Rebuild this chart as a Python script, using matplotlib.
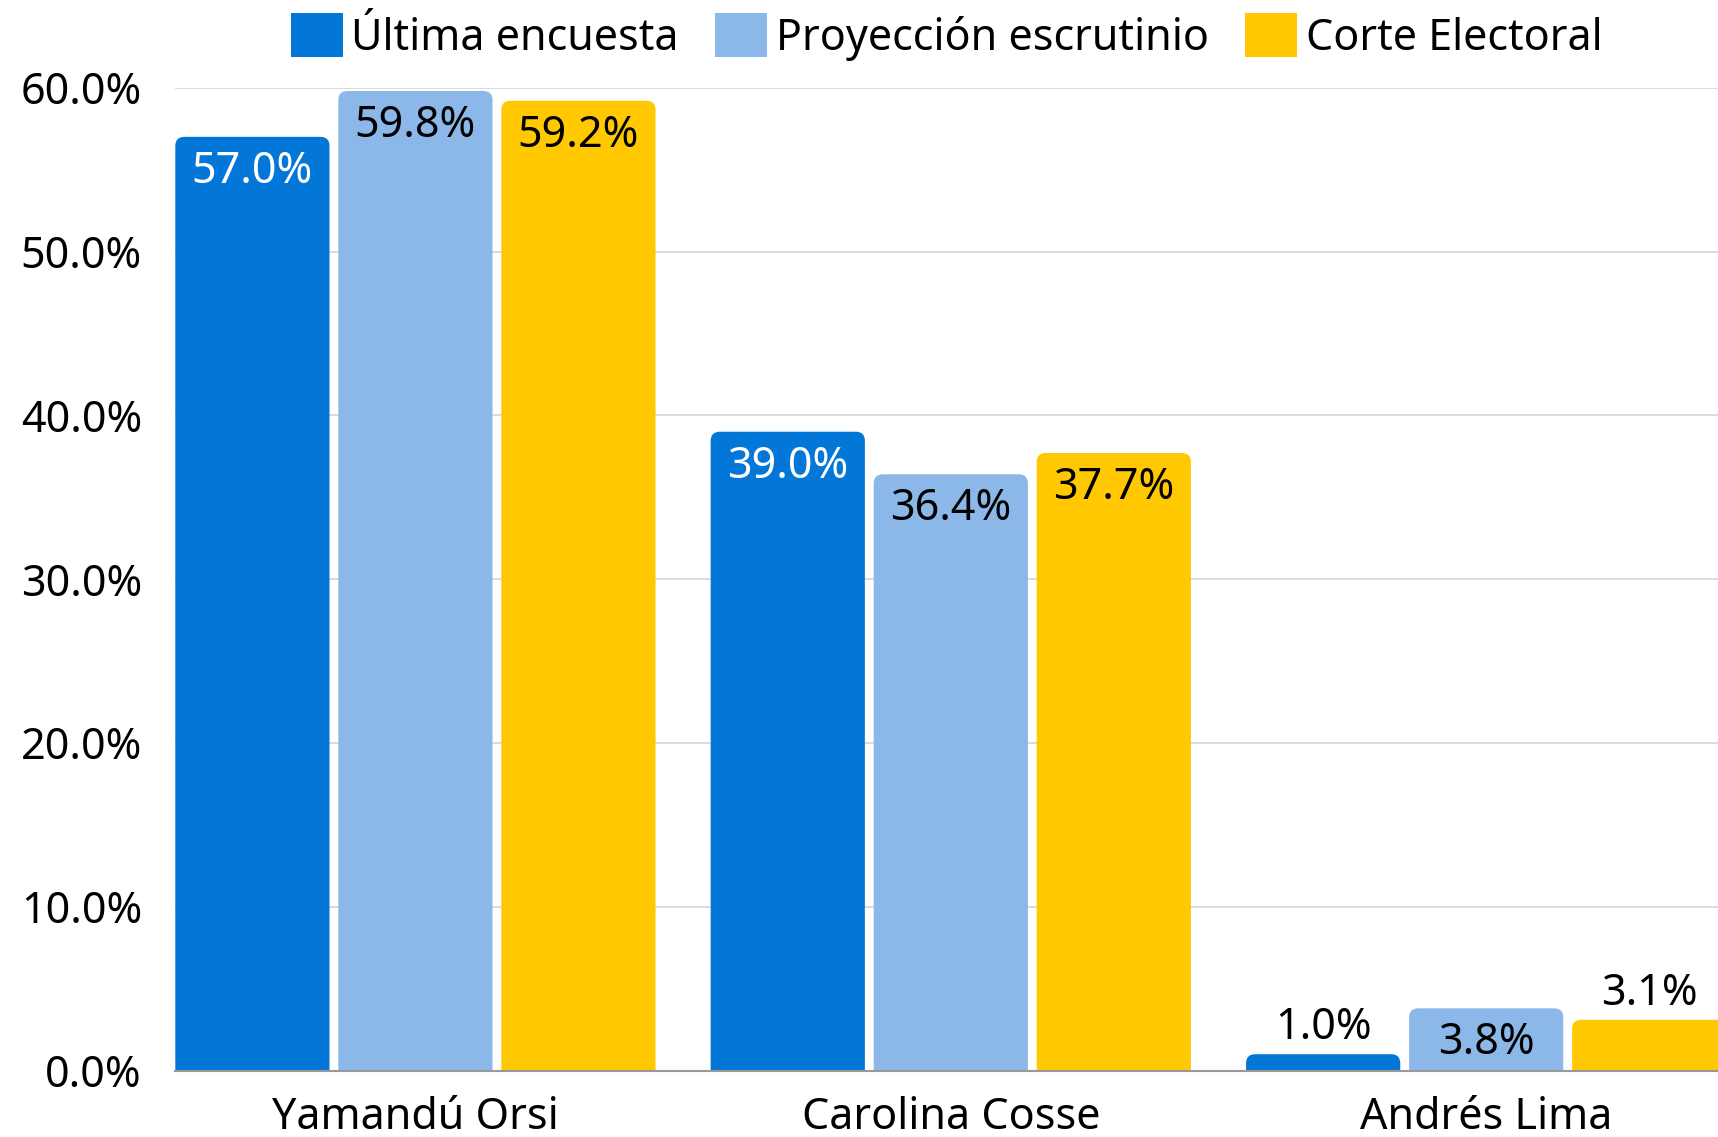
import numpy as np
import matplotlib.pyplot as plt
from matplotlib.patches import FancyBboxPatch, Patch

plt.rcParams['font.family'] = ['Noto Sans', 'DejaVu Sans']

# data
candidates = ['Yamandú Orsi', 'Carolina Cosse', 'Andrés Lima']
series = ['Última encuesta', 'Proyección escrutinio', 'Corte Electoral']
ultima = [57.0, 39.0, 1.0]
proyeccion = [59.8, 36.4, 3.8]
corte = [59.2, 37.7, 3.1]
yticks = [0, 10, 20, 30, 40, 50, 60]

colors = ['#0277d7', '#8bb8e8', '#ffc800']
text_colors = ['white', 'black', 'black']
fs = 31

W, H = 1718, 1137
fig = plt.figure(figsize=(W / 100, H / 100), dpi=100)
ax = fig.add_axes([175.3 / W, 66.4 / H, 1 - 175.3 / W, (1049.3 - 66.4) / H])

x = np.arange(len(candidates))
bw = 0.288
step = 0.3045
values = [ultima, proyeccion, corte]

# rounded radius in data units (about 9 px)
rx = 9 / 535.3
ry = 9 / 163.8 * 10

for i, vals in enumerate(values):
    bars = ax.bar(x + (i - 1) * step, vals, bw, color=colors[i])
    for b, v in zip(bars, vals):
        b.set_visible(False)
        x0, w, h = b.get_x(), b.get_width(), b.get_height()
        p = FancyBboxPatch((x0, -2 * ry), w, h + 2 * ry,
                           boxstyle=f'round,pad=0,rounding_size={rx}',
                           mutation_aspect=ry / rx,
                           facecolor=colors[i], edgecolor='none', zorder=2)
        ax.add_patch(p)
        xc = x0 + w / 2
        if v > 3.5:
            ax.annotate(f'{v:.1f}%', (xc, v), xytext=(0, -33), textcoords='offset points',
                        ha='center', va='baseline', fontsize=fs, color=text_colors[i], zorder=3)
        else:
            ax.annotate(f'{v:.1f}%', (xc, v), xytext=(0, 11), textcoords='offset points',
                        ha='center', va='baseline', fontsize=fs, color='black', zorder=3)

ax.set_xlim(-0.4485, 2.433)
ax.set_ylim(0, 60)
ax.set_yticks(yticks)
ax.set_yticklabels([f'{t:.1f}%' for t in yticks])
ax.set_xticks(x)
ax.set_xticklabels(candidates)
ax.tick_params(axis='y', length=0, pad=24, labelsize=fs)
ax.tick_params(axis='x', length=0, pad=18, labelsize=fs)
ax.grid(axis='y', color='#d4d4d4', linewidth=1.2, zorder=0)
ax.set_axisbelow(True)
for s in ['top', 'right', 'left']:
    ax.spines[s].set_visible(False)
ax.spines['bottom'].set_color('#999999')
ax.spines['bottom'].set_linewidth(1.5)
ax.spines['bottom'].set_zorder(4)

# legend centred over the axes, about 37 px below the top of the figure
leg_y = 1 + ((H - 37) - 1049.3) / (1049.3 - 66.4)
handles = [Patch(facecolor=c, edgecolor='none') for c in colors]
ax.legend(handles, series, loc='center', bbox_to_anchor=(0.5, leg_y),
          ncol=3, frameon=False, fontsize=31, handlelength=1.2, handleheight=1.2,
          handletextpad=0.2, columnspacing=0.85, borderaxespad=0)

fig.savefig('out.png', dpi=100)
